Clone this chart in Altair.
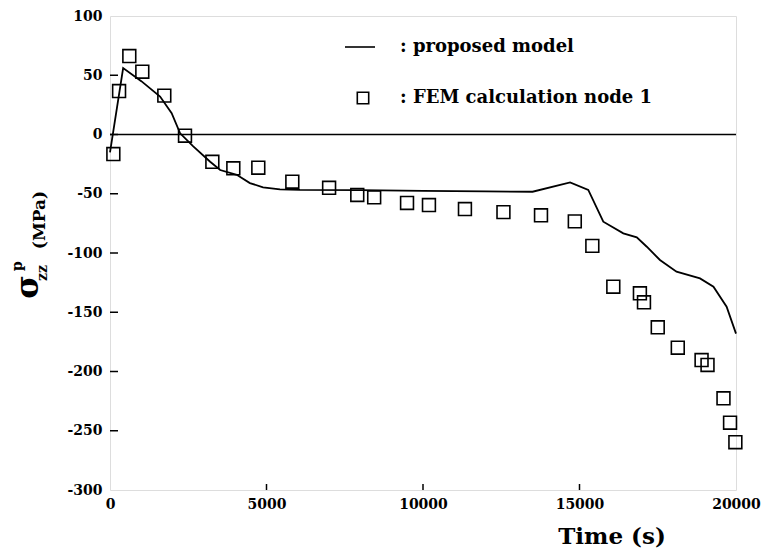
import altair as alt
import pandas as pd

# proposed model curve (time s, stress MPa)
model_t = [0, 420, 1000, 1600, 1970, 2240, 2660, 3200, 3520, 4050, 4470, 4890, 5430, 6070,
           8000, 10000, 12000, 13500, 14700, 15280, 15760, 16400, 16830, 17150, 17570,
           18100, 18850, 19280, 19700, 20000]
model_s = [-15, 56, 45, 32, 18, 1, -10, -23, -30, -34, -41, -44.6, -46.3, -46.8,
           -47, -47.5, -48, -48.3, -40.4, -46.8, -73.6, -83.4, -86.8, -94.7, -105.9,
           -115.8, -121.4, -128.4, -145.3, -168]

# FEM calculation node 1
fem_t = [107, 290, 617, 1032, 1735, 2396, 3270, 3940, 4738, 5825, 7000, 7900, 8440,
         9490, 10190, 11340, 12570, 13770, 14850, 15410, 16080, 16930, 17060, 17500,
         18140, 18900, 19090, 19600, 19810, 19980]
fem_s = [-16.5, 36.7, 66.2, 53, 32.8, -1, -23, -28.5, -28, -39.8, -45, -51, -53,
         -57.8, -59.5, -62.9, -65.5, -68.2, -73.3, -94, -128.4, -134, -141.6, -162.7,
         -179.9, -190.3, -194.5, -222.6, -243.2, -259.7]

x_ticks = [0, 5000, 10000, 15000, 20000]
y_ticks = [100, 50, 0, -50, -100, -150, -200, -250, -300]

W, H = 626, 474
FONT = "DejaVu Serif"

xs = alt.Scale(domain=[0, 20000], nice=False)
ys = alt.Scale(domain=[-300, 100], nice=False)

model_df = pd.DataFrame({"t": model_t, "s": model_s})
fem_df = pd.DataFrame({"t": fem_t, "s": fem_s})

base_x = alt.X("t:Q", scale=xs,
               axis=alt.Axis(values=x_ticks, title=None, grid=False, domain=False, ticks=False,
                             format="d",
                             labelFont=FONT, labelFontWeight="bold", labelFontSize=14,
                             labelColor="black", labelPadding=7, labelFlush=False))
base_y = alt.Y("s:Q", scale=ys,
               axis=alt.Axis(values=y_ticks, title=None, grid=False, domain=False, ticks=False,
                             labelFont=FONT, labelFontWeight="bold", labelFontSize=14,
                             labelColor="black", labelPadding=8, labelFlush=False,
                             labelExpr="replace(datum.label, '\u2212', '-')"))

line = alt.Chart(model_df).mark_line(color="black", strokeWidth=1.8).encode(
    x=base_x, y=base_y, order="t:Q")

pts = alt.Chart(fem_df).mark_point(shape="square", size=165, filled=False,
                                   color="black", strokeWidth=1.6, opacity=1).encode(
    x=alt.X("t:Q", scale=xs), y=alt.Y("s:Q", scale=ys))

zero = alt.Chart(pd.DataFrame({"s": [0]})).mark_rule(color="black", strokeWidth=1.5).encode(
    y=alt.Y("s:Q", scale=ys), x=alt.value(0), x2=alt.value(W))

yt = alt.Chart(pd.DataFrame({"s": y_ticks[1:-1]})).mark_rule(color="black", strokeWidth=1.5).encode(
    y=alt.Y("s:Q", scale=ys), x=alt.value(0), x2=alt.value(8))

xt = alt.Chart(pd.DataFrame({"t": x_ticks[1:-1]})).mark_rule(color="black", strokeWidth=1.5).encode(
    x=alt.X("t:Q", scale=xs), y=alt.value(H), y2=alt.value(H - 6))

# legend
leg_line = alt.Chart(pd.DataFrame({"a": [0]})).mark_rule(color="black", strokeWidth=1.6).encode(
    x=alt.value(235), x2=alt.value(265), y=alt.value(31))
leg_sq = alt.Chart(pd.DataFrame({"a": [0]})).mark_point(shape="square", size=130, filled=False,
                                                        color="black", strokeWidth=1.6, opacity=1).encode(
    x=alt.value(253), y=alt.value(82))
leg_txt = alt.Chart(pd.DataFrame({"label": [": proposed model", ": FEM calculation node 1"],
                                  "py": [31, 82]})).mark_text(
    align="left", baseline="middle", font=FONT, fontWeight="bold", fontSize=18, color="black").encode(
    x=alt.value(290), y=alt.Y("py:Q", scale=None), text="label:N")

# axis titles
xtitle = alt.Chart(pd.DataFrame({"label": ["Time (s)"]})).mark_text(
    align="center", baseline="middle", font=FONT, fontWeight="bold", fontSize=23, color="black").encode(
    x=alt.value(502), y=alt.value(521), text="label:N")

ytitle_parts = pd.DataFrame({
    "label": ["(MPa)", "\u03c3", "zz", "p"],
    "px": [-70, -82, -67, -92],
    "py": [204, 271, 257, 250],
    "fs": [17, 32, 14, 14],
})
ytitle = alt.Chart(ytitle_parts).mark_text(
    align="center", baseline="middle", font=FONT, fontWeight="bold", angle=270, color="black").encode(
    x=alt.X("px:Q", scale=None), y=alt.Y("py:Q", scale=None), text="label:N",
    size=alt.Size("fs:Q", scale=None, legend=None))

chart = alt.layer(zero, yt, xt, line, pts, leg_line, leg_sq, leg_txt, xtitle, ytitle).properties(
    width=W, height=H,
    autosize=alt.AutoSizeParams(type="none"),
    padding={"left": 102, "top": 8, "right": 25, "bottom": 60},
).configure_view(stroke="black", strokeWidth=1.5).configure(background="white")

chart.save("out.html", embed_options={"renderer": "svg", "actions": False})
